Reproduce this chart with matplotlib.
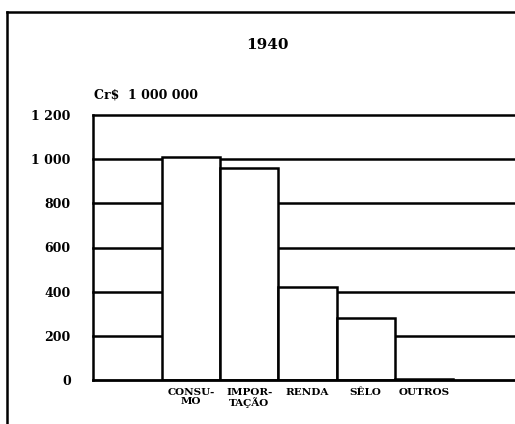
import matplotlib
matplotlib.use("Agg")
import matplotlib.pyplot as plt
from matplotlib.lines import Line2D

# receita por categoria, 1940 (Cr$ 1 000 000)
categorias = ["CONSU-\nMO", "IMPOR-\nTAÇÃO", "RENDA", "SÊLO", "OUTROS"]
valores = [1010, 960, 420, 280, 5]
yticks = [0, 200, 400, 600, 800, 1000, 1200]
ytick_labels = ["0", "200", "400", "600", "800", "1 000", "1 200"]

plt.rcParams["font.family"] = "DejaVu Serif"
plt.rcParams["font.weight"] = "bold"

fig = plt.figure(figsize=(5.15, 4.24), dpi=100)
ax = fig.add_axes([93 / 515, 44 / 424, 1 - 93 / 515, 265 / 424])

# linhas horizontais de referencia, atras das barras
for v in yticks[1:]:
    ax.axhline(v, color="black", lw=1.8, zorder=1, clip_on=False)
ax.axhline(0, color="black", lw=2.0, zorder=3, clip_on=False)

x = list(range(len(categorias)))
ax.bar(x, valores, width=1.0, facecolor="white", edgecolor="black",
       linewidth=1.8, zorder=2)

ax.set_xlim(-1.68, 5.56)
ax.set_ylim(0, 1200)

for side in ["top", "right", "bottom"]:
    ax.spines[side].set_visible(False)
ax.spines["left"].set_linewidth(1.8)

ax.set_yticks(yticks)
ax.set_yticklabels(ytick_labels, fontsize=9, fontweight="bold")
ax.tick_params(axis="y", length=0, pad=16)

ax.set_xticks(x)
ax.set_xticklabels(categorias, fontsize=7.5, fontweight="bold",
                   linespacing=1.0)
ax.tick_params(axis="x", length=0, pad=6)

fig.text(267 / 515, 1 - 45 / 424, "1940", ha="center", va="center",
         fontsize=11, fontweight="bold")
fig.text(94 / 515, 1 - 95 / 424, "Cr$  1 000 000", ha="left", va="center",
         fontsize=9, fontweight="bold")

# moldura externa
fig.add_artist(Line2D([7 / 515, 7 / 515], [0, 1 - 12 / 424],
                      transform=fig.transFigure, color="black", lw=1.8))
fig.add_artist(Line2D([7 / 515, 1], [1 - 12 / 424, 1 - 12 / 424],
                      transform=fig.transFigure, color="black", lw=1.8))

fig.savefig("out.png", dpi=100)
